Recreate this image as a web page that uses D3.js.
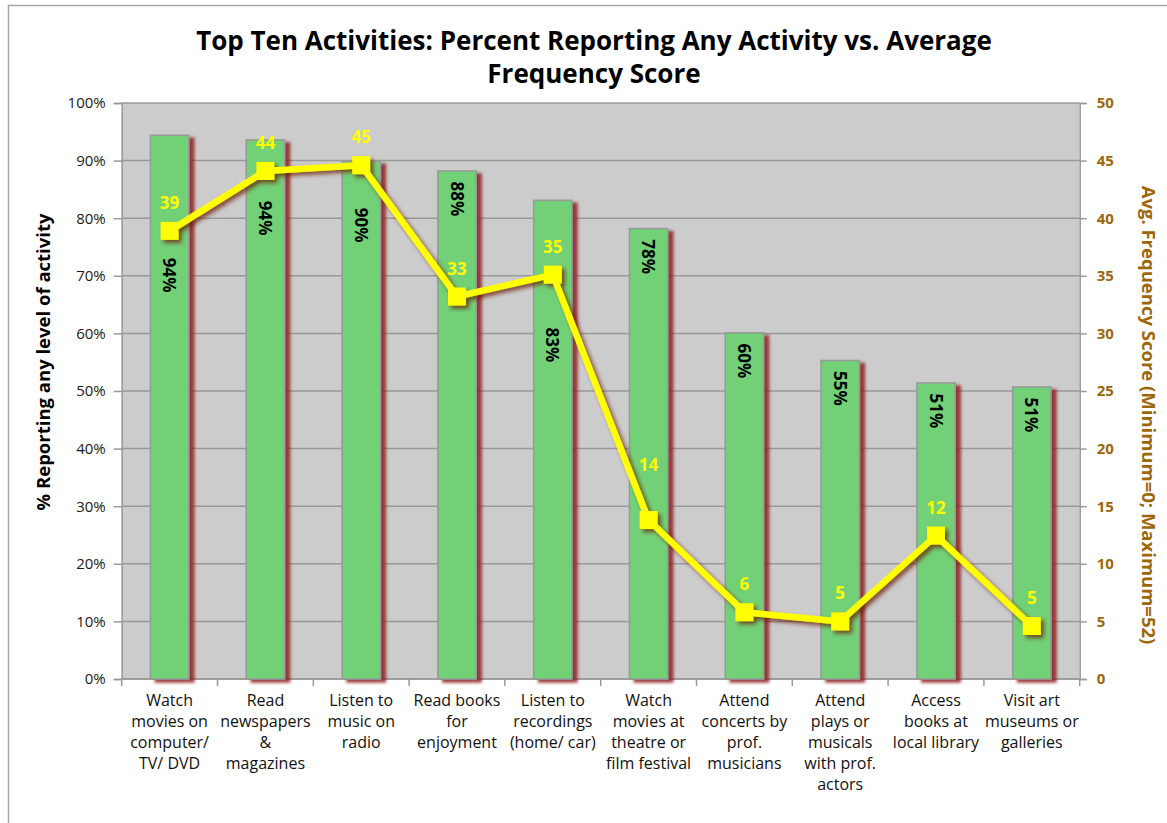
<!DOCTYPE html>
<html>
<head>
<meta charset="utf-8">
<script src="https://cdn.jsdelivr.net/npm/d3@7"></script>
<style>
  body { margin: 0; background: #fff; }
  text { font-family: "Open Sans", "Noto Sans", sans-serif; }
</style>
</head>
<body>
<div id="chart"></div>
<script>
// activities along the x axis (line breaks as shown on the chart)
var categories = [
    "Watch\nmovies on\ncomputer/\nTV/ DVD",
    "Read\nnewspapers\n&\nmagazines",
    "Listen to\nmusic on\nradio",
    "Read books\nfor\nenjoyment",
    "Listen to\nrecordings\n(home/ car)",
    "Watch\nmovies at\ntheatre or\nfilm festival",
    "Attend\nconcerts by\nprof.\nmusicians",
    "Attend\nplays or\nmusicals\nwith prof.\nactors",
    "Access\nbooks at\nlocal library",
    "Visit art\nmuseums or\ngalleries"
];

// % reporting any level of activity (bars, left axis)
var pctReporting = [0.944, 0.936, 0.899, 0.882, 0.831, 0.782, 0.601, 0.553, 0.514, 0.507];

// average frequency score (line, right axis)
var freqScore = [38.9, 44.1, 44.6, 33.2, 35.1, 13.8, 5.8, 5.0, 12.45, 4.6];

// tick values of both axes
var pctTicks = [0, 0.1, 0.2, 0.3, 0.4, 0.5, 0.6, 0.7, 0.8, 0.9, 1.0];
var scoreTicks = [0, 5, 10, 15, 20, 25, 30, 35, 40, 45, 50];

// labels that were dragged away from their default spot (in axis units, null = default)
var pctLabelAt = [0.701, 0.800, 0.788, null, 0.580, null, null, null, null, null];
var scoreLabelAt = [null, null, null, null, null, 18.6, null, null, null, null];

var w = 1167, h = 823;
var plotL = 121.7, plotR = 1079.7, plotT = 103, plotB = 679;

var svg = d3.select("#chart").append("svg")
    .attr("width", w)
    .attr("height", h);

var defs = svg.append("defs");
defs.append("filter")
    .attr("id", "barShadow")
    .attr("x", "-20%").attr("y", "-5%")
    .attr("width", "160%").attr("height", "115%")
  .append("feDropShadow")
    .attr("dx", 5).attr("dy", 3)
    .attr("stdDeviation", 1.6)
    .attr("flood-color", "#8e1c1c")
    .attr("flood-opacity", 0.85);
defs.append("filter")
    .attr("id", "lineShadow")
    .attr("x", "-10%").attr("y", "-10%")
    .attr("width", "120%").attr("height", "120%")
  .append("feDropShadow")
    .attr("dx", 3).attr("dy", 3)
    .attr("stdDeviation", 2)
    .attr("flood-color", "#6b1d00")
    .attr("flood-opacity", 0.75);

// outer chart frame (only left and top edges are in view)
svg.append("rect")
    .attr("x", 8.5).attr("y", 5.5)
    .attr("width", 1300).attr("height", 1000)
    .style("fill", "#fff")
    .style("stroke", "#a6a6a6")
    .style("stroke-width", 1.5);

// scales
var x = d3.scaleBand()
    .domain(d3.range(categories.length))
    .range([plotL, plotR])
    .paddingInner(0.6)
    .paddingOuter(0.3);
var yL = d3.scaleLinear().domain([0, 1]).range([plotB, plotT]);
var yR = d3.scaleLinear().domain([0, 50]).range([plotB, plotT]);

// plot background and gridlines
svg.append("rect")
    .attr("x", plotL).attr("y", plotT)
    .attr("width", plotR - plotL).attr("height", plotB - plotT)
    .style("fill", "#cccccc");
svg.append("g").selectAll("line")
    .data(pctTicks)
    .join("line")
    .attr("x1", plotL).attr("x2", plotR)
    .attr("y1", function(d) { return yL(d); })
    .attr("y2", function(d) { return yL(d); })
    .style("stroke", "#999")
    .style("stroke-width", 1.5);

// left axis
var axL = svg.append("g")
    .attr("transform", "translate(" + plotL + ",0)")
    .call(d3.axisLeft(yL).tickValues(pctTicks).tickFormat(d3.format(".0%")).tickSize(8).tickPadding(8));
axL.select(".domain").style("stroke", "#999").style("stroke-width", 1.5);
axL.selectAll(".tick line").style("stroke", "#999").style("stroke-width", 1.5);
axL.selectAll(".tick text")
    .style("font-size", "15px")
    .style("fill", "#1a1a1a");

// right axis
var axR = svg.append("g")
    .attr("transform", "translate(" + plotR + ",0)")
    .call(d3.axisRight(yR).tickValues(scoreTicks).tickSize(7).tickPadding(10));
axR.select(".domain").style("stroke", "#999").style("stroke-width", 1.5);
axR.selectAll(".tick line").style("stroke", "#999").style("stroke-width", 1.5);
axR.selectAll(".tick text")
    .style("font-size", "15px")
    .style("font-weight", "bold")
    .style("fill", "#9d6708");

// bottom axis: ticks at the category boundaries, labels centred under the bars
var step = x.step();
var bounds = d3.range(categories.length + 1).map(function(i) {
    return i < categories.length ? x(i) - step * x.paddingOuter() : plotR;
});
svg.append("line")
    .attr("x1", plotL).attr("x2", plotR)
    .attr("y1", plotB).attr("y2", plotB)
    .style("stroke", "#999").style("stroke-width", 1.5);
svg.append("g").selectAll("line")
    .data(bounds)
    .join("line")
    .attr("x1", function(d) { return d; })
    .attr("x2", function(d) { return d; })
    .attr("y1", plotB).attr("y2", plotB + 7)
    .style("stroke", "#999").style("stroke-width", 1.5);

var catText = svg.append("g").selectAll("text")
    .data(categories)
    .join("text")
    .attr("x", function(d, i) { return x(i) + x.bandwidth() / 2; })
    .attr("y", plotB + 27)
    .attr("text-anchor", "middle")
    .style("font-size", "16px")
    .style("fill", "#111");
catText.each(function(d) {
    var lines = d.split("\n");
    var t = d3.select(this);
    var cx = t.attr("x");
    lines.forEach(function(line, k) {
        t.append("tspan")
            .attr("x", cx)
            .attr("dy", k == 0 ? 0 : 21)
            .text(line);
    });
});

// bars
svg.append("g")
    .attr("filter", "url(#barShadow)")
  .selectAll("rect")
    .data(pctReporting)
    .join("rect")
    .attr("x", function(d, i) { return x(i); })
    .attr("y", function(d) { return yL(d); })
    .attr("width", x.bandwidth())
    .attr("height", function(d) { return plotB - yL(d); })
    .style("fill", "#72d176")
    .style("stroke", "#999")
    .style("stroke-width", 1.5);

// bar value labels, rotated
svg.append("g").selectAll("text")
    .data(pctReporting)
    .join("text")
    .attr("transform", function(d, i) {
        var cx = x(i) + x.bandwidth() / 2;
        var cy = pctLabelAt[i] == null ? yL(d) + 28 : yL(pctLabelAt[i]);
        return "translate(" + cx + "," + cy + ") rotate(90)";
    })
    .attr("text-anchor", "middle")
    .attr("dominant-baseline", "central")
    .style("font-size", "17px")
    .style("font-weight", "bold")
    .style("fill", "#000")
    .text(function(d) { return Math.round(d * 100) + "%"; });

// frequency line with square markers
var pts = freqScore.map(function(d, i) { return [x(i) + x.bandwidth() / 2, yR(d)]; });
var lineG = svg.append("g").attr("filter", "url(#lineShadow)");
lineG.append("path")
    .attr("d", d3.line()(pts))
    .style("fill", "none")
    .style("stroke", "#ffff00")
    .style("stroke-width", 6.5)
    .style("stroke-linejoin", "round");
lineG.selectAll("rect")
    .data(pts)
    .join("rect")
    .attr("x", function(d) { return d[0] - 9; })
    .attr("y", function(d) { return d[1] - 9; })
    .attr("width", 18).attr("height", 18)
    .style("fill", "#ffff00");

svg.append("g").selectAll("text")
    .data(freqScore)
    .join("text")
    .attr("x", function(d, i) { return x(i) + x.bandwidth() / 2; })
    .attr("y", function(d, i) {
        return scoreLabelAt[i] == null ? yR(d) - 22 : yR(scoreLabelAt[i]) + 6;
    })
    .attr("text-anchor", "middle")
    .style("font-size", "17px")
    .style("font-weight", "bold")
    .style("fill", "#ffff00")
    .text(function(d) { return Math.round(d); });

// axis titles
svg.append("text")
    .attr("transform", "translate(50,362) rotate(-90)")
    .attr("text-anchor", "middle")
    .style("font-size", "18.5px")
    .style("font-weight", "bold")
    .style("fill", "#000")
    .text("% Reporting any level of activity");
svg.append("text")
    .attr("transform", "translate(1142,415) rotate(90)")
    .attr("text-anchor", "middle")
    .style("font-size", "18.5px")
    .style("font-weight", "bold")
    .style("fill", "#9d6708")
    .text("Avg. Frequency Score (Minimum=0; Maximum=52)");

// title, two lines
var title = svg.append("g")
    .style("font-size", "26px")
    .style("font-weight", "bold")
    .style("fill", "#000");
title.append("text").attr("x", 594).attr("y", 50).attr("text-anchor", "middle")
    .text("Top Ten Activities: Percent Reporting Any Activity vs. Average");
title.append("text").attr("x", 594).attr("y", 83).attr("text-anchor", "middle")
    .text("Frequency Score");
</script>
</body>
</html>
